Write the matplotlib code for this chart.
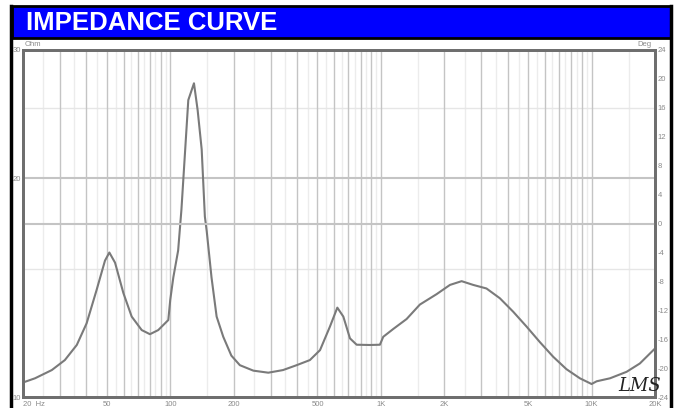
import matplotlib
matplotlib.use("Agg")
import matplotlib.pyplot as plt
import numpy as np
from matplotlib.patches import Rectangle
from matplotlib.lines import Line2D

# impedance curve
freq = [20, 22.8, 27.4, 31.6, 36, 40.1, 44.7, 49, 51.4, 54.7, 59.9, 65.6, 73.2, 80.1,
        87.7, 97.9, 100, 103.4, 109, 113, 121.8, 129.6, 134.9, 141, 146, 149, 157, 166,
        178.5, 195, 214, 248, 292, 343, 398, 460, 514, 573, 621, 663, 713, 767, 887,
        989, 1026, 1143, 1324, 1531, 1839, 2127, 2416, 2742, 3170, 3670, 4245, 4910,
        5680, 6570, 7600, 8800, 10000, 10570, 12230, 14660, 16950, 20000]
ohm = [10.47, 10.61, 10.89, 11.24, 11.79, 12.63, 14.03, 15.4, 15.8, 15.3, 13.9, 12.9,
       12.36, 12.2, 12.36, 12.76, 13.6, 14.6, 15.9, 18.1, 25.6, 27.0, 24.8, 21.9, 17.7,
       16.9, 14.6, 12.9, 12.1, 11.4, 11.06, 10.87, 10.8, 10.89, 11.06, 11.24, 11.6,
       12.5, 13.27, 12.9, 12.04, 11.8, 11.79, 11.8, 12.1, 12.4, 12.8, 13.4, 13.85,
       14.26, 14.43, 14.26, 14.1, 13.67, 13.1, 12.5, 11.9, 11.36, 10.92, 10.61, 10.42,
       10.51, 10.61, 10.83, 11.12, 11.66]

xticks = [20, 50, 100, 200, 500, 1000, 2000, 5000, 10000, 20000]
xlabels = ["20  Hz", "50", "100", "200", "500", "1K", "2K", "5K", "10K", "20K"]
ohm_ticks = [10, 20, 30]
deg_ticks = list(range(-24, 25, 4))

W, H = 679, 408
plt.rcParams['font.family'] = ['Liberation Sans', 'DejaVu Sans']
plt.rcParams['axes.unicode_minus'] = False
fig = plt.figure(figsize=(W / 100, H / 100), dpi=100)

# title bar and outer frame
fig.patches.append(Rectangle((12 / W, 1 - 38 / H), 659 / W, 32 / H, transform=fig.transFigure,
                             facecolor='#0000ff', edgecolor='black', linewidth=2))
fig.lines.append(Line2D([11 / W, 11 / W], [0, 1 - 6 / H], transform=fig.transFigure, color='black', lw=2.5))
fig.lines.append(Line2D([671 / W, 671 / W], [0, 1 - 6 / H], transform=fig.transFigure, color='black', lw=2.5))
fig.text(26 / W, 1 - 23 / H, "IMPEDANCE CURVE", color='white', fontsize=18.5, fontweight='bold',
         va='center', ha='left')

ax = fig.add_axes([23 / W, 1 - 397 / H, 632 / W, 347 / H])
ax.set_xscale('log')
ax.set_yscale('log')
ax.set_xlim(20, 20000)
ax.set_ylim(10, 30)

# vertical grid
for dec in [10, 100, 1000, 10000]:
    for k in range(1, 10):
        f = k * dec
        if 20 < f < 20000:
            ax.axvline(f, color='#c4c4c4', lw=1, zorder=1)
        fh = (k + 0.5) * dec
        if 20 < fh < 20000:
            ax.axvline(fh, color='#ececec', lw=1, zorder=0)

# horizontal grid
ax.axhline(20, color='#c4c4c4', lw=1.5, zorder=1)
ax.axhline(15, color='#e6e6e6', lw=1, zorder=0)
ax.axhline(25, color='#e6e6e6', lw=1, zorder=0)

ax.plot(freq, ohm, color='#7a7a7a', lw=1.5, zorder=3)

ax.set_xticks(xticks)
ax.set_xticklabels(xlabels)
ax.xaxis.set_minor_locator(matplotlib.ticker.NullLocator())
ax.set_yticks(ohm_ticks)
ax.set_yticklabels([str(t) for t in ohm_ticks])
ax.yaxis.set_minor_locator(matplotlib.ticker.NullLocator())
ax.tick_params(length=0, labelsize=5.5, labelcolor='#8a8a8a', pad=1.5)
ax.tick_params(axis='x', pad=3)
ax.get_xticklabels()[0].set_horizontalalignment('left')

ax2 = ax.twinx()
ax2.set_ylim(-24, 24)
ax2.set_yticks(deg_ticks)
ax2.tick_params(length=0, labelsize=5.5, labelcolor='#8a8a8a', pad=2)
ax2.axhline(0, color='#c4c4c4', lw=1.5, zorder=1)

for a in (ax, ax2):
    for s in a.spines.values():
        s.set_color('#6e6e6e')
        s.set_linewidth(2)

fig.text(25 / W, 1 - 44 / H, "Ohm", fontsize=5.5, color='#8a8a8a', va='center', ha='left')
fig.text(652 / W, 1 - 44 / H, "Deg", fontsize=5.5, color='#8a8a8a', va='center', ha='right')
fig.text(618 / W, 1 - 386 / H, "LMS", fontsize=13, style='italic', color='#222222',
         family='DejaVu Serif', va='center', ha='left')

fig.savefig("out.png", dpi=100)
